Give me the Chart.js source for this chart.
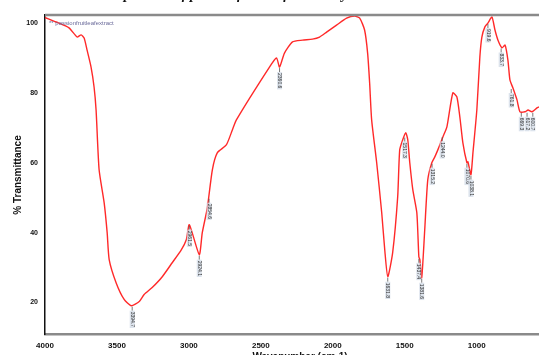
<!DOCTYPE html>
<html>
<head>
<meta charset="utf-8">
<script src="https://cdn.jsdelivr.net/npm/chart.js@4"></script>
<style>
  html, body { margin: 0; padding: 0; background: #fff; }
  #wrap { width: 539px; height: 355px; position: relative; }
</style>
</head>
<body>
<div id="wrap"><canvas id="ftirChart"></canvas></div>
<script>
// spectre (cm-1 / % T)
const wavenumbers = [4000, 3923, 3833, 3777, 3749, 3728, 3708, 3680, 3659, 3645, 3624, 3589, 3568, 3554, 3506, 3450, 3401, 3345, 3311, 3255, 3185, 3116, 3053, 3018, 2997, 2928, 2907, 2872, 2837, 2802, 2740, 2698, 2670, 2440, 2391, 2370, 2336, 2280, 2210, 2141, 2092, 2043, 1974, 1904, 1848, 1813, 1779, 1758, 1744, 1730, 1695, 1660, 1639, 1618, 1584, 1549, 1535, 1514, 1493, 1479, 1465, 1444, 1416, 1402, 1395, 1382, 1361, 1340, 1312, 1291, 1270, 1235, 1207, 1166, 1138, 1117, 1096, 1068, 1061, 1040, 1026, 999, 978, 964, 943, 922, 894, 873, 852, 824, 803, 783, 769, 748, 720, 699, 664, 643, 616, 581, 567];
const transmittance = [101.6, 100.3, 98.6, 96.0, 96.6, 95.7, 92.3, 87.4, 81.7, 75.1, 58.0, 48.6, 40.0, 32.3, 25.7, 20.9, 19.1, 20.3, 22.3, 24.3, 27.4, 31.4, 35.1, 38.0, 42.3, 33.7, 40.0, 47.1, 58.0, 62.9, 65.1, 69.4, 72.3, 87.4, 90.0, 87.4, 91.4, 94.6, 95.1, 95.4, 96.0, 97.4, 99.4, 101.4, 102.0, 101.4, 98.0, 91.4, 82.9, 72.3, 60.0, 45.7, 35.1, 27.4, 34.3, 50.3, 63.7, 66.6, 68.6, 66.6, 60.0, 52.3, 45.7, 33.1, 32.3, 27.1, 40.9, 55.1, 60.0, 61.7, 63.7, 67.4, 70.3, 80.0, 78.9, 73.1, 65.7, 60.0, 60.3, 56.6, 62.9, 75.1, 90.3, 96.0, 98.9, 100.0, 101.7, 98.0, 95.1, 92.9, 93.7, 89.4, 83.7, 81.4, 78.0, 74.6, 74.6, 75.1, 74.6, 75.7, 76.0];

const xTicks = [4000, 3500, 3000, 2500, 2000, 1500, 1000];
const yTicks = [20, 40, 60, 80, 100];

// étiquettes des pics
const peakWn = [3394, 2997, 2928, 2860, 2370, 1618, 1500, 1402, 1382, 1310, 1240, 1068, 1040, 922, 830, 760, 690, 650, 610];
const peakT = [19.1, 42.3, 33.7, 50.0, 87.4, 27.4, 67.5, 32.8, 27.1, 60.0, 67.6, 60.0, 56.6, 100.0, 93.0, 81.4, 74.6, 74.6, 74.6];
const peakText = ['3394.7', '2961.5', '2924.1', '2854.6', '2360.6', '1631.8', '1517.3', '1437.4', '1381.6', '1315.2', '1244.0', '1070.6', '1038.1', '919.6', '833.7', '761.8', '669.3', '617.2', '600.7'];

const extras = {
    id: 'extras',
    afterDatasetsDraw(chart) {
        const ctx = chart.ctx;
        const xs = chart.scales.x, ys = chart.scales.y;
        const a = chart.chartArea;
        ctx.save();

        // bord du haut
        ctx.strokeStyle = '#8a8a8a';
        ctx.lineWidth = 2.5;
        ctx.beginPath();
        ctx.moveTo(a.left, a.top);
        ctx.lineTo(a.right, a.top);
        ctx.stroke();

        // étiquettes verticales
        ctx.font = '5px "Liberation Sans"';
        for (let i = 0; i < peakWn.length; i++) {
            const px = xs.getPixelForValue(peakWn[i]);
            const py = ys.getPixelForValue(peakT[i]);
            ctx.strokeStyle = '#555';
            ctx.lineWidth = 0.8;
            ctx.beginPath();
            ctx.moveTo(px, py + 1);
            ctx.lineTo(px, py + 5);
            ctx.stroke();
            ctx.save();
            ctx.translate(px, py + 5);
            ctx.rotate(Math.PI / 2);
            const w = ctx.measureText(peakText[i]).width;
            ctx.fillStyle = 'rgba(205,215,228,0.7)';
            ctx.fillRect(0, -2.5, w + 2, 5);
            ctx.fillStyle = '#333';
            ctx.textBaseline = 'middle';
            ctx.fillText(peakText[i], 1, 0);
            ctx.restore();
        }

        // légende
        ctx.font = '6px "Liberation Sans"';
        ctx.fillStyle = '#6a6a9a';
        ctx.textBaseline = 'middle';
        ctx.fillText('** passionfruitleafextract', a.left + 4, a.top + 8);

        // titre de l'axe Y
        ctx.save();
        ctx.translate(18, 175);
        ctx.rotate(-Math.PI / 2);
        ctx.font = 'bold 10px "Liberation Sans"';
        ctx.fillStyle = '#111';
        ctx.textAlign = 'center';
        ctx.fillText('% Transmittance', 0, 0);
        ctx.restore();

        // titre de l'axe X (coupé en bas)
        ctx.font = 'bold 10px "Liberation Sans"';
        ctx.fillStyle = '#111';
        ctx.textAlign = 'center';
        ctx.textBaseline = 'top';
        ctx.fillText('Wavenumber (cm-1)', 300, 352);

        // titre de la figure (coupé en haut)
        ctx.font = 'bold italic 14px "Liberation Serif"';
        ctx.textBaseline = 'alphabetic';
        ctx.fillText('FTIR spectrum of passion fruit leaf extract by', 215, -1);
        ctx.restore();
    }
};

new Chart(document.getElementById('ftirChart'), {
    type: 'line',
    data: {
        datasets: [{
            label: 'passionfruitleafextract',
            data: wavenumbers.map((w, i) => ({ x: w, y: transmittance[i] })),
            borderColor: 'rgba(255, 30, 30, 0.95)',
            borderWidth: 1.4,
            pointRadius: 0,
            tension: 0.2,
            fill: false
        }]
    },
    options: {
        responsive: true,
        maintainAspectRatio: false,
        animation: false,
        layout: { padding: { top: 15, right: 0, left: 0, bottom: 0 } },
        scales: {
            x: {
                type: 'linear',
                reverse: true,
                min: 567,
                max: 4000,
                afterBuildTicks: axis => { axis.ticks = xTicks.map(v => ({ value: v })); },
                afterFit: axis => { axis.height = 21; },
                grid: { display: false, drawTicks: false },
                border: { display: true, color: '#8a8a8a', width: 2.5 },
                ticks: {
                    padding: 7,
                    maxRotation: 0,
                    color: '#111',
                    callback: v => String(v),
                    font: { family: 'Liberation Sans', size: 8, weight: 'bold' }
                }
            },
            y: {
                min: 11,
                max: 102.3,
                afterBuildTicks: axis => { axis.ticks = yTicks.map(v => ({ value: v })); },
                afterFit: axis => { axis.width = 45; },
                grid: { display: false, drawTicks: false },
                border: { display: true, color: '#111', width: 1.5 },
                ticks: {
                    padding: 7,
                    color: '#111',
                    callback: v => String(v),
                    font: { family: 'Liberation Sans', size: 7, weight: 'bold' }
                }
            }
        },
        plugins: {
            legend: { display: false },
            tooltip: { enabled: false }
        }
    },
    plugins: [extras]
});
</script>
</body>
</html>
